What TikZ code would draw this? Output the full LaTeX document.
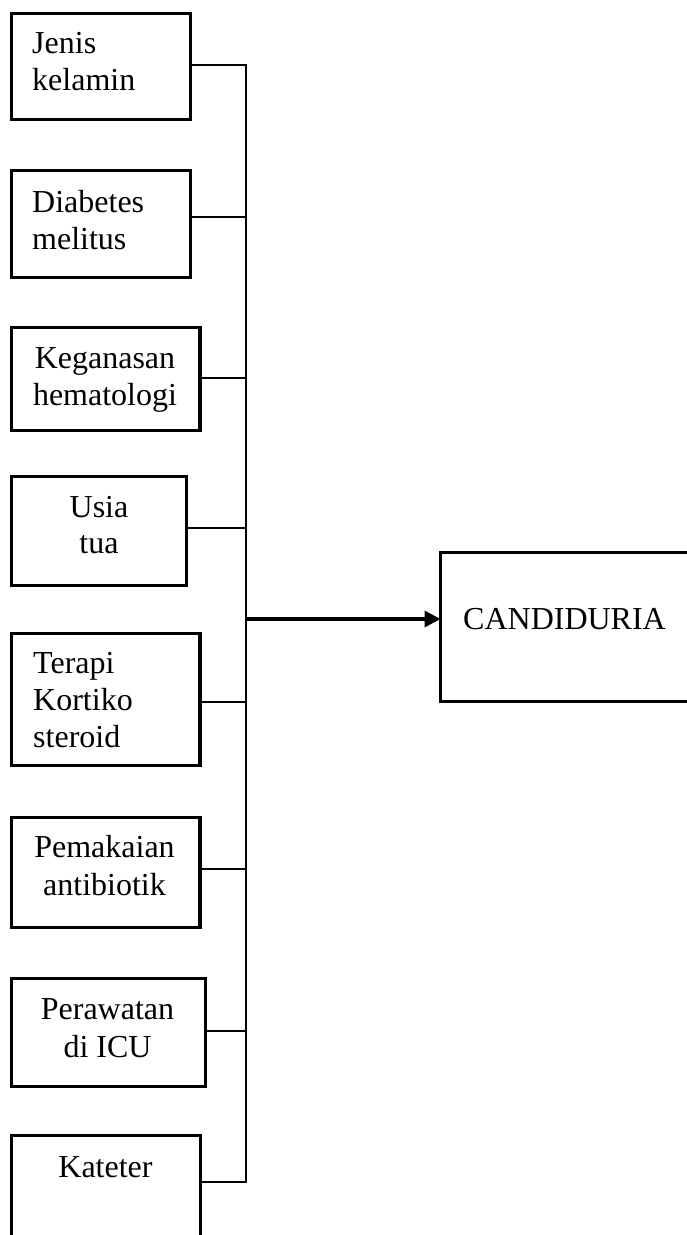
\documentclass[tikz,border=0pt]{standalone}
\usepackage{fontspec}
\setmainfont{Liberation Serif}
\usetikzlibrary{arrows.meta}
\begin{document}
\begin{tikzpicture}[x=1pt,y=-1pt,
  box/.style={draw=black, line width=3.5pt, rectangle, inner sep=0pt, outer sep=0pt, anchor=north west},
  txt/.style={inner sep=0pt, font=\fontsize{32}{37}\selectfont},
  conn/.style={draw=black, line width=1.8pt},
  bus/.style={draw=black, line width=2.3pt},
  arr/.style={draw=black, line width=3.5pt, -{Triangle[length=16pt,width=16pt]}}]
\useasboundingbox (0,0) rectangle (687,1235);
\clip (0,0) rectangle (687,1235);
\fill[white] (0,0) rectangle (687,1235);

% boxes
\node[box, minimum width=179pt, minimum height=106pt] (b1) at (11.5,13.5) {};
\node[box, minimum width=179pt, minimum height=107pt] (b2) at (11.5,170.5) {};
\node[box, minimum width=188.5pt, minimum height=103pt] (b3) at (11.5,327.5) {};
\node[box, minimum width=175pt, minimum height=109pt] (b4) at (11.5,476.5) {};
\node[box, minimum width=188.5pt, minimum height=132pt] (b5) at (11.5,633.5) {};
\node[box, minimum width=188.5pt, minimum height=110pt] (b6) at (11.5,817.5) {};
\node[box, minimum width=194pt, minimum height=108pt] (b7) at (11.5,978.5) {};
\node[box, minimum width=189pt, minimum height=200pt] (b8) at (11.5,1135.5) {};
\node[box, minimum width=400pt, minimum height=149pt] (cand) at (440.5,552.5) {};

% texts
\node[txt, anchor=base west] (t1a) at (32,53) {Jenis};
\node[txt, anchor=base west] (t1b) at (32,90) {kelamin};
\node[txt, anchor=base west] (t2a) at (32,212) {Diabetes};
\node[txt, anchor=base west] (t2b) at (32,249) {melitus};
\node[txt, anchor=base] (t3a) at (105,368) {Keganasan};
\node[txt, anchor=base] (t3b) at (105,405) {hematologi};
\node[txt, anchor=base] (t4a) at (99,517) {Usia};
\node[txt, anchor=base] (t4b) at (99,553) {tua};
\node[txt, anchor=base west] (t5a) at (33,673) {Terapi};
\node[txt, anchor=base west] (t5b) at (33,710) {Kortiko};
\node[txt, anchor=base west] (t5c) at (33,747) {steroid};
\node[txt, anchor=base] (t6a) at (104.5,857) {Pemakaian};
\node[txt, anchor=base] (t6b) at (104.5,895) {antibiotik};
\node[txt, anchor=base] (t7a) at (107.5,1019) {Perawatan};
\node[txt, anchor=base] (t7b) at (107.5,1057) {di ICU};
\node[txt, anchor=base] (t8a) at (105.5,1177) {Kateter};
\node[txt, anchor=base west] (tc) at (463,629) {CANDIDURIA};

% bus junctions
\coordinate (j1) at (246,65);
\coordinate (j2) at (246,217);
\coordinate (j3) at (246,378);
\coordinate (j4) at (246,528);
\coordinate (ja) at (246,619);
\coordinate (j5) at (246,702);
\coordinate (j6) at (246,869);
\coordinate (j7) at (246,1031);
\coordinate (j8) at (246,1182);

\draw[conn] (b1.east |- j1) -- (j1);
\draw[conn] (b2.east |- j2) -- (j2);
\draw[conn] (b3.east |- j3) -- (j3);
\draw[conn] (b4.east |- j4) -- (j4);
\draw[conn] (b5.east |- j5) -- (j5);
\draw[conn] (b6.east |- j6) -- (j6);
\draw[conn] (b7.east |- j7) -- (j7);
\draw[conn] (b8.east |- j8) -- (j8);
\draw[bus] ([yshift=0.9pt]j1) -- ([yshift=-0.9pt]j8);
\draw[arr] (ja) -- (cand.west |- ja);
\end{tikzpicture}
\end{document}
